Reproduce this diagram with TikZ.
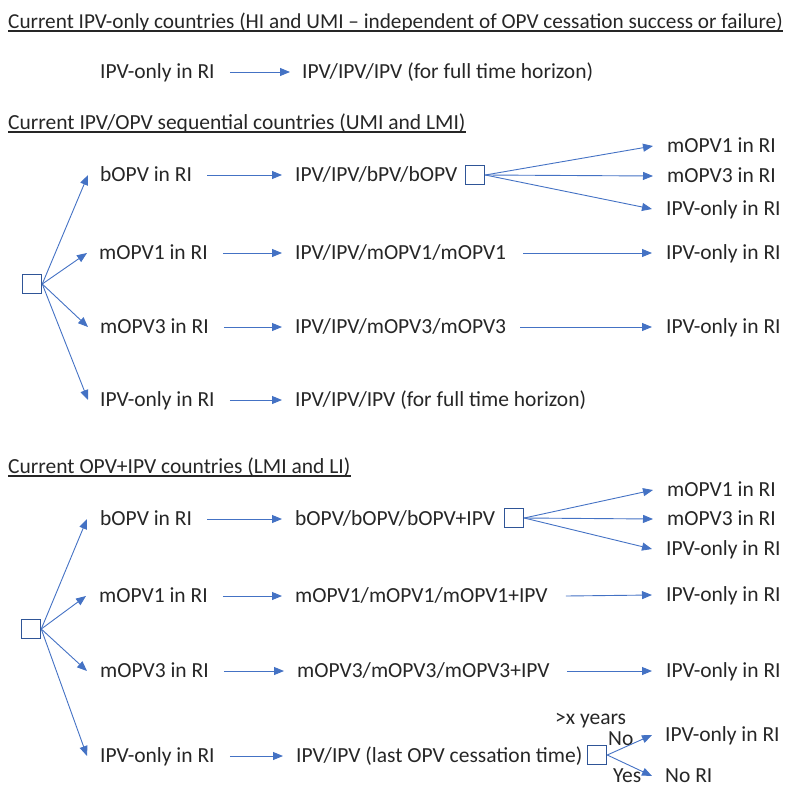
\documentclass[tikz,border=0pt]{standalone}
\usepackage{fontspec}
\setmainfont{Carlito}
\usetikzlibrary{arrows.meta}
\definecolor{arrc}{HTML}{4472C4}
\definecolor{boxc}{HTML}{2F5597}
\definecolor{txtc}{HTML}{262626}
\begin{document}
\begin{tikzpicture}[x=1pt,y=-1pt,
  font=\fontsize{21.5}{25}\selectfont,
  lbl/.style={anchor=west, inner sep=0pt, text height=13.5pt, text depth=0pt, text=txtc},
  ttl/.style={anchor=base west, inner sep=0pt, text=txtc},
  uline/.style={draw=txtc, line width=1.4pt},
  dbox/.style={draw=boxc, line width=1.5pt, minimum size=19pt, inner sep=0pt},
  arr/.style={draw=arrc, line width=0.9pt, -{Triangle[length=10pt,width=8pt]}}]
\useasboundingbox (0,0) rectangle (789,787);

% ---------- Section 1 ----------
\node[ttl, font=\fontsize{21.25}{25}\selectfont] (t1) at (8,28) {Current IPV-only countries (HI and UMI – independent of OPV cessation success or failure)};
\draw[uline] ([yshift=-3pt]t1.base west) -- ([yshift=-3pt]t1.base east);
\node[lbl] (s1a) at (100,72) {IPV-only in RI};
\node[lbl] (s1b) at (302,72) {IPV/IPV/IPV (for full time horizon)};
\draw[arr] ([xshift=15pt]s1a.east) -- ([xshift=-12pt]s1b.west);

% ---------- Section 2 ----------
\node[ttl] (t2) at (8,129) {Current IPV/OPV sequential countries (UMI and LMI)};
\draw[uline] ([yshift=-3pt]t2.base west) -- ([yshift=-3pt]t2.base east);
\node[dbox] (b1) at (32,284) {};
\node[lbl] (s2a1) at (100,175) {bOPV in RI};
\node[lbl] (s2a2) at (99,253) {mOPV1 in RI};
\node[lbl] (s2a3) at (100,327) {mOPV3 in RI};
\node[lbl] (s2a4) at (100,400) {IPV-only in RI};
\node[lbl] (s2b1) at (295,175) {IPV/IPV/bPV/bOPV};
\node[lbl] (s2b2) at (295,253) {IPV/IPV/mOPV1/mOPV1};
\node[lbl] (s2b3) at (295,327) {IPV/IPV/mOPV3/mOPV3};
\node[lbl] (s2b4) at (295,400) {IPV/IPV/IPV (for full time horizon)};
\node[dbox] (b2) at (475,175) {};
\node[lbl] (s2c1) at (667,146) {mOPV1 in RI};
\node[lbl] (s2c2) at (667,176) {mOPV3 in RI};
\node[lbl] (s2c3) at (666,209) {IPV-only in RI};
\node[lbl] (s2c4) at (666,253) {IPV-only in RI};
\node[lbl] (s2c5) at (666,327) {IPV-only in RI};
\foreach \n in {1,2,3,4}{\draw[arr] (b1.east) -- ([xshift=-12pt]s2a\n.west);}
\foreach \n in {1,2,3,4}{\draw[arr] ([xshift=15pt]s2a\n.east) -- ([xshift=-13pt]s2b\n.west);}
\foreach \n in {1,2,3}{\draw[arr] (b2.east) -- ([xshift=-14pt]s2c\n.west);}
\draw[arr] ([xshift=17pt]s2b2.east) -- ([xshift=-14pt]s2c4.west);
\draw[arr] ([xshift=14pt]s2b3.east) -- ([xshift=-14pt]s2c5.west);

% ---------- Section 3 ----------
\node[ttl] (t3) at (8,473) {Current OPV+IPV countries (LMI and LI)};
\draw[uline] ([yshift=-3pt]t3.base west) -- ([yshift=-3pt]t3.base east);
\node[dbox] (b3) at (31,629) {};
\node[lbl] (s3a1) at (100,519) {bOPV in RI};
\node[lbl] (s3a2) at (99,596) {mOPV1 in RI};
\node[lbl] (s3a3) at (100,671) {mOPV3 in RI};
\node[lbl] (s3a4) at (100,756) {IPV-only in RI};
\node[lbl] (s3b1) at (295,519) {bOPV/bOPV/bOPV+IPV};
\node[lbl] (s3b2) at (295,596) {mOPV1/mOPV1/mOPV1+IPV};
\node[lbl] (s3b3) at (297,671) {mOPV3/mOPV3/mOPV3+IPV};
\node[lbl] (s3b4) at (296,756) {IPV/IPV (last OPV cessation time)};
\node[dbox] (b4) at (514,518) {};
\node[dbox] (b5) at (597,755) {};
\node[lbl] (s3c1) at (667,490) {mOPV1 in RI};
\node[lbl] (s3c2) at (667,519) {mOPV3 in RI};
\node[lbl] (s3c3) at (666,549) {IPV-only in RI};
\node[lbl] (s3c4) at (666,595) {IPV-only in RI};
\node[lbl] (s3c5) at (666,671) {IPV-only in RI};
\node[lbl] (s3c6) at (665,735) {IPV-only in RI};
\node[lbl] (s3c7) at (665,776) {No RI};
\node[lbl] (yrs) at (555,718) {>x years};
\node[lbl] (no) at (608,739) {No};
\node[lbl] (yes) at (613,776) {Yes};
\foreach \n in {1,2,3,4}{\draw[arr] (b3.east) -- ([xshift=-13pt]s3a\n.west);}
\foreach \n in {1,2,3,4}{\draw[arr] ([xshift=15pt]s3a\n.east) -- ([xshift=-13pt]s3b\n.west);}
\foreach \n in {1,2,3}{\draw[arr] (b4.east) -- ([xshift=-14pt]s3c\n.west);}
\draw[arr] ([xshift=18pt]s3b2.east) -- ([xshift=-14pt]s3c4.west);
\draw[arr] ([xshift=17pt]s3b3.east) -- ([xshift=-14pt]s3c5.west);
\draw[arr] (b5.east) -- ([xshift=-13pt]s3c6.west);
\draw[arr] (b5.east) -- ([xshift=-13pt]s3c7.west);
\end{tikzpicture}
\end{document}
